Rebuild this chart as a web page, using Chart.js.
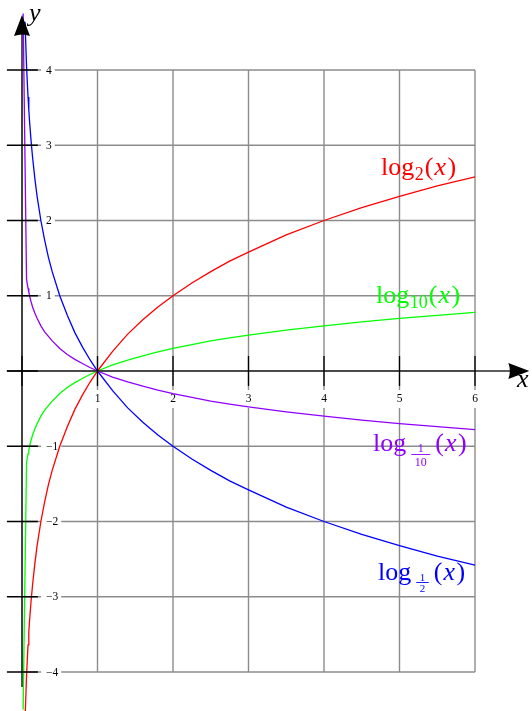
<!DOCTYPE html>
<html>
<head>
<meta charset="utf-8">
<script src="https://cdn.jsdelivr.net/npm/chart.js@4"></script>
<style>
html, body { margin: 0; padding: 0; background: #fff; }
#wrap { width: 532px; height: 711px; }
</style>
</head>
<body>
<div id="wrap"><canvas id="chart" width="532" height="711"></canvas></div>
<script>
// grid / tick values
const xGrid = [0, 1, 2, 3, 4, 5, 6];
const yGrid = [-4, -3, -2, -1, 0, 1, 2, 3, 4];
const xTickLabels = ['1', '2', '3', '4', '5', '6'];
const yTickValues = [-4, -3, -2, -1, 1, 2, 3, 4];
const yTickLabels = ['\u22124', '\u22123', '\u22122', '\u22121', '1', '2', '3', '4'];

// sample points (base 2 and base 1/2)
const xsTwo = [0.04, 0.06, 0.07, 0.08, 0.09, 0.1, 0.12, 0.14, 0.17, 0.2, 0.25, 0.3, 0.35, 0.4, 0.5, 0.6, 0.7, 0.8, 0.9, 1,
  1.2, 1.4, 1.6, 1.8, 2, 2.25, 2.5, 2.75, 3, 3.5, 4, 4.5, 5, 5.5, 6];
const log2Vals = [-4.64, -4.06, -3.84, -3.64, -3.47, -3.32, -3.06, -2.84, -2.56, -2.32, -2, -1.74, -1.51, -1.32, -1, -0.74, -0.51, -0.32, -0.15, 0,
  0.26, 0.49, 0.68, 0.85, 1, 1.17, 1.32, 1.46, 1.58, 1.81, 2, 2.17, 2.32, 2.46, 2.58];
const logHalfVals = [4.64, 4.06, 3.84, 3.64, 3.47, 3.32, 3.06, 2.84, 2.56, 2.32, 2, 1.74, 1.51, 1.32, 1, 0.74, 0.51, 0.32, 0.15, 0,
  -0.26, -0.49, -0.68, -0.85, -1, -1.17, -1.32, -1.46, -1.58, -1.81, -2, -2.17, -2.32, -2.46, -2.58];

// sample points (base 10 and base 1/10)
const xsTen = [0.015, 0.06, 0.07, 0.08, 0.09, 0.1, 0.12, 0.14, 0.17, 0.2, 0.25, 0.3, 0.35, 0.4, 0.5, 0.6, 0.7, 0.8, 0.9, 1,
  1.2, 1.4, 1.6, 1.8, 2, 2.25, 2.5, 2.75, 3, 3.5, 4, 4.5, 5, 5.5, 6];
const log10Vals = [-4.5, -1.22, -1.155, -1.1, -1.05, -1, -0.92, -0.85, -0.77, -0.7, -0.6, -0.52, -0.46, -0.4, -0.3, -0.22, -0.155, -0.1, -0.046, 0,
  0.08, 0.146, 0.2, 0.255, 0.3, 0.35, 0.4, 0.44, 0.477, 0.544, 0.6, 0.653, 0.7, 0.74, 0.778];
const logTenthVals = [4.75, 1.22, 1.155, 1.1, 1.05, 1, 0.92, 0.85, 0.77, 0.7, 0.6, 0.52, 0.46, 0.4, 0.3, 0.22, 0.155, 0.1, 0.046, 0,
  -0.08, -0.146, -0.2, -0.255, -0.3, -0.35, -0.4, -0.44, -0.477, -0.544, -0.6, -0.653, -0.7, -0.74, -0.778];

const RED = '#ff0000', GREEN = '#00ff00', PURPLE = '#8f00ff', BLUE = '#0000ff';
const SERIF = '"Liberation Serif", "DejaVu Serif", serif';

function pts(xs, ys) {
  return xs.map((v, i) => ({ x: v, y: ys[i] }));
}

function curve(data, color) {
  return { data: data, borderColor: color, borderWidth: 1.3, pointRadius: 0, showLine: true, tension: 0, fill: false };
}

// draws  log_sub(x)  in a TeX-like way
function mathLabel(ctx, x, base, color, sub) {
  ctx.fillStyle = color;
  ctx.strokeStyle = color;
  ctx.textAlign = 'left';
  ctx.textBaseline = 'alphabetic';
  ctx.font = '26px ' + SERIF;
  ctx.fillText('log', x, base);
  x += ctx.measureText('log').width;
  if (sub.den) {
    ctx.font = sub.size + 'px ' + SERIF;
    const w = Math.max(ctx.measureText(sub.num).width, ctx.measureText(sub.den).width) + 7;
    x += 5;
    ctx.textAlign = 'center';
    ctx.fillText(sub.num, x + w / 2, base + sub.numDy);
    ctx.fillText(sub.den, x + w / 2, base + sub.denDy);
    ctx.lineWidth = 0.9;
    ctx.beginPath();
    ctx.moveTo(x, base + sub.barDy);
    ctx.lineTo(x + w, base + sub.barDy);
    ctx.stroke();
    ctx.textAlign = 'left';
    x += w + 5;
  } else {
    ctx.font = '18px ' + SERIF;
    ctx.fillText(sub.text, x + 0.5, base + 5);
    x += ctx.measureText(sub.text).width + 1.5;
  }
  ctx.font = '26px ' + SERIF;
  ctx.fillText('(', x, base);
  x += ctx.measureText('(').width + 1;
  ctx.font = 'italic 26px ' + SERIF;
  ctx.fillText('x', x, base);
  x += ctx.measureText('x').width + 1.5;
  ctx.font = '26px ' + SERIF;
  ctx.fillText(')', x, base);
}

const axesPlugin = {
  id: 'axes',
  beforeDatasetsDraw(chart) {
    const { ctx, scales: { x, y } } = chart;
    ctx.save();
    ctx.strokeStyle = '#8c8c8c';
    ctx.lineWidth = 1.4;
    xGrid.forEach(v => {
      ctx.beginPath();
      ctx.moveTo(x.getPixelForValue(v), y.getPixelForValue(-4));
      ctx.lineTo(x.getPixelForValue(v), y.getPixelForValue(4));
      ctx.stroke();
    });
    yGrid.forEach(v => {
      ctx.beginPath();
      ctx.moveTo(x.getPixelForValue(0), y.getPixelForValue(v));
      ctx.lineTo(x.getPixelForValue(6), y.getPixelForValue(v));
      ctx.stroke();
    });

    // tick labels on white boxes
    ctx.font = '11.5px ' + SERIF;
    ctx.textBaseline = 'middle';
    ctx.textAlign = 'left';
    yTickValues.forEach((v, i) => {
      const py = y.getPixelForValue(v);
      const lx = 46;
      const w = ctx.measureText(yTickLabels[i]).width;
      ctx.fillStyle = '#fff';
      ctx.fillRect(lx - 5, py - 6, w + 8, 12);
      ctx.fillStyle = '#000';
      ctx.fillText(yTickLabels[i], lx, py + 0.5);
    });
    ctx.textAlign = 'center';
    xTickLabels.forEach((t, i) => {
      const px = x.getPixelForValue(i + 1);
      const py = y.getPixelForValue(0) + 28;
      const w = ctx.measureText(t).width;
      ctx.fillStyle = '#fff';
      ctx.fillRect(px - w / 2 - 3, py - 9, w + 6, 18);
      ctx.fillStyle = '#000';
      ctx.fillText(t, px, py);
    });
    ctx.restore();
  },
  afterDatasetsDraw(chart) {
    const { ctx, scales: { x, y } } = chart;
    const x0 = x.getPixelForValue(0), y0 = y.getPixelForValue(0);
    ctx.save();
    // axis lines
    ctx.strokeStyle = '#2a2a2a';
    ctx.lineWidth = 1.6;
    ctx.beginPath();
    ctx.moveTo(x.getPixelForValue(-0.2), y0);
    ctx.lineTo(x.getPixelForValue(6.6), y0);
    ctx.moveTo(x0, y.getPixelForValue(-4.2));
    ctx.lineTo(x0, y.getPixelForValue(4.6));
    ctx.stroke();

    // ticks
    ctx.strokeStyle = '#000';
    ctx.lineWidth = 1.3;
    ctx.beginPath();
    yGrid.forEach(v => {
      const py = y.getPixelForValue(v);
      ctx.moveTo(x.getPixelForValue(-0.2), py);
      ctx.lineTo(x.getPixelForValue(0.21), py);
    });
    xGrid.forEach(v => {
      const px = x.getPixelForValue(v);
      ctx.moveTo(px, y.getPixelForValue(0.2));
      ctx.lineTo(px, y.getPixelForValue(-0.2));
    });
    ctx.stroke();

    // arrow heads
    ctx.fillStyle = '#000';
    const xt = x.getPixelForValue(6.72);
    ctx.beginPath();
    ctx.moveTo(xt, y0);
    ctx.lineTo(xt - 21, y0 - 8);
    ctx.quadraticCurveTo(xt - 18, y0, xt - 21, y0 + 8);
    ctx.closePath();
    ctx.fill();
    const yt = y.getPixelForValue(4.73);
    ctx.beginPath();
    ctx.moveTo(x0, yt);
    ctx.lineTo(x0 - 8, yt + 21);
    ctx.quadraticCurveTo(x0, yt + 18, x0 + 8, yt + 21);
    ctx.closePath();
    ctx.fill();

    // axis names
    ctx.font = 'italic 26px ' + SERIF;
    ctx.textAlign = 'left';
    ctx.textBaseline = 'alphabetic';
    ctx.fillText('x', 517, 387);
    ctx.fillText('y', 29, 21);

    // curve names
    mathLabel(ctx, 381, 175, RED, { text: '2' });
    mathLabel(ctx, 376, 303, GREEN, { text: '10' });
    mathLabel(ctx, 373, 451, PURPLE, { num: '1', den: '10', size: 12, numDy: 1, barDy: 3.5, denDy: 14.5 });
    mathLabel(ctx, 378, 580, BLUE, { num: '1', den: '2', size: 11, numDy: 1, barDy: 2.5, denDy: 11.5 });
    ctx.restore();
  }
};

const chart = new Chart(document.getElementById('chart'), {
  type: 'scatter',
  data: {
    datasets: [
      curve(pts(xsTwo, log2Vals), RED),
      curve(pts(xsTen, log10Vals), GREEN),
      curve(pts(xsTen, logTenthVals), PURPLE),
      curve(pts(xsTwo, logHalfVals), BLUE)
    ]
  },
  options: {
    responsive: false,
    animation: false,
    layout: { padding: 0 },
    plugins: { legend: { display: false }, tooltip: { enabled: false } },
    scales: {
      x: { type: 'linear', display: false, min: -22 / 75.5, max: 510 / 75.5 },
      y: { type: 'linear', display: false, min: -340 / 75.25, max: 371 / 75.25 }
    }
  },
  plugins: [axesPlugin]
});
</script>
</body>
</html>
